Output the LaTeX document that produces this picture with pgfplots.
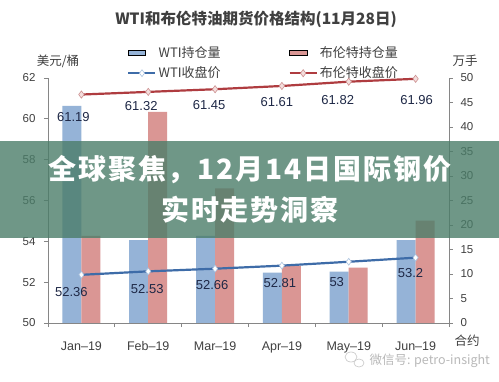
\documentclass[border=0pt]{standalone}
\usepackage{fontspec}
\setmainfont{Liberation Sans}
\newfontfamily\cjk{Noto Sans CJK SC}
\newfontfamily\cjkwide[LetterSpace=7]{Noto Sans CJK SC}
\usepackage{pgfplots}
\usepackage{pgfplotstable}
\pgfplotsset{compat=1.18}

\definecolor{wtibar}{RGB}{149,179,215}
\definecolor{brbar}{RGB}{218,150,148}
\definecolor{wtiline}{RGB}{62,108,168}
\definecolor{brline}{RGB}{175,60,64}
\definecolor{axgray}{RGB}{134,134,134}
\definecolor{txt}{RGB}{64,64,64}
\definecolor{lbl}{RGB}{30,40,70}
\definecolor{banner}{RGB}{75,125,105}

\pgfplotsset{
  mylinelegend/.style={legend image code/.code={\draw[mark repeat=2,mark phase=2,##1] plot coordinates {(0pt,0pt) (13.5pt,0pt) (27pt,0pt)};}},
}

\pgfplotstableread{
x y
0 44.3
1 16.9
2 17.8
3 10.3
4 10.5
5 16.9
}\wtioi
\pgfplotstableread{
x y
0 17.8
1 43.1
2 27.5
3 11.7
4 11.3
5 20.9
}\broi
\pgfplotstableread{
x y dx dy lab
0 52.36 -10 -17 52.36
1 52.53 -1 -18 52.53
2 52.66 -3 -16 52.66
3 52.81 -2 -17 52.81
4 53.00 -12 -20 53
5 53.20 -5 -15 53.2
}\wticl
\pgfplotstableread{
x y dx dy lab
0 61.19 -8 -22 61.19
1 61.32 -7 -14 61.32
2 61.45 -6 -16 61.45
3 61.61 -5 -16 61.61
4 61.82 -11 -18 61.82
5 61.96 1 -21 61.96
}\brcl

\begin{document}
\begin{tikzpicture}
\fill[white] (0pt,0pt) rectangle (499pt,381pt);
\useasboundingbox (0pt,0pt) rectangle (499pt,381pt);

\pgfplotsset{
  common/.style={
    at={(48pt,58pt)}, anchor=south west, scale only axis,
    width=401pt, height=245pt,
    xmin=-0.5, xmax=5.5,
    axis line style={axgray, line width=0.8pt},
    tick style={axgray, line width=0.8pt},
    tick align=outside, major tick length=4pt,
    tick label style={font=\fontsize{11.5}{13}\selectfont, color=txt},
    /pgf/number format/assume math mode=true,
  }
}

% bars: right axis
\begin{axis}[common,
  ymin=0, ymax=50, ytick={0,5,...,50},
  axis y line*=right, axis x line=none,
  yticklabel style={xshift=4pt},
  ybar=0pt, bar width=19pt,
]
\addplot[fill=wtibar, draw=none] table[x=x,y=y] {\wtioi};
\addplot[fill=brbar, draw=none] table[x=x,y=y] {\broi};
\end{axis}

% lines: left axis
\begin{axis}[common,
  ymin=50, ymax=62, ytick={50,52,...,62},
  axis y line*=left, axis x line*=bottom,
  yticklabel style={xshift=-5pt},
  xtick={-0.5,0.5,...,5.5},
  xticklabels={Jan--19,Feb--19,Mar--19,Apr--19,May--19,Jun--19},
  x tick label as interval,
  xticklabel style={yshift=-11pt, font=\fontsize{12.5}{14}\selectfont},
  clip=false,
  legend columns=2,
  legend style={at={(0.19,1.146)}, anchor=north west, draw=none, fill=none,
    font=\cjk\fontsize{13}{15}\selectfont, text=txt,
    /tikz/every even column/.append style={column sep=66pt},
    row sep=4pt},
]
\addlegendimage{area legend, fill=wtibar, draw=none}
\addlegendentry{WTI持仓量}
\addlegendimage{area legend, fill=brbar, draw=none}
\addlegendentry{布伦特持仓量}

\addplot[wtiline, line width=2.2pt, mark=diamond*, mark size=3.4pt,
  mark options={fill=white, draw=wtibar!80, line width=0.6pt},
  point meta=explicit symbolic,
  nodes near coords,
  visualization depends on={\thisrow{dx}\as\dx},
  visualization depends on={\thisrow{dy}\as\dy},
  every node near coord/.append style={anchor=center, xshift={\dx pt}, yshift={\dy pt},
    font=\fontsize{13}{15}\selectfont, color=lbl},
  mylinelegend,
] table[x=x,y=y,meta=lab] {\wticl};
\addlegendentry{WTI收盘价}

\addplot[brline, line width=2.2pt, mark=diamond*, mark size=3.6pt,
  mark options={fill={rgb,255:red,244;green,222;blue,221}, draw={rgb,255:red,205;green,145;blue,145}, line width=0.6pt},
  point meta=explicit symbolic,
  nodes near coords,
  visualization depends on={\thisrow{dx}\as\dx},
  visualization depends on={\thisrow{dy}\as\dy},
  every node near coord/.append style={anchor=center, xshift={\dx pt}, yshift={\dy pt},
    font=\fontsize{13}{15}\selectfont, color=lbl},
  mylinelegend,
] table[x=x,y=y,meta=lab] {\brcl};
\addlegendentry{布伦特收盘价}
\end{axis}

% titles and axis captions
\node[font=\cjk\bfseries\fontsize{15.5}{18}\selectfont, color=txt] at (256pt,362pt) {WTI和布伦特油期货价格结构(11月28日)};
\node[font=\cjk\fontsize{12.5}{14}\selectfont, color=txt] at (58pt,320pt) {美元/桶};
\node[font=\cjk\fontsize{12.5}{14}\selectfont, color=txt] at (465pt,320pt) {万手};
\node[font=\cjk\fontsize{12.5}{14}\selectfont, color=txt] at (467pt,40pt) {合约};

% watermark
\draw[gray!45, line width=0.6pt] (351pt,24pt) ellipse (6pt and 5pt);
\draw[gray!45, line width=0.6pt] (359pt,18pt) ellipse (5pt and 4pt);
\node[font=\cjk\fontsize{12.5}{14}\selectfont, color=gray!55, anchor=west] at (366pt,20pt) {微信号: petro-insight};

% banner overlay
\fill[banner, opacity=0.8] (0pt,143pt) rectangle (499pt,240pt);
\node[font=\cjkwide\bfseries\fontsize{28}{30}\selectfont, color=white] at (250pt,211pt) {全球聚焦，12月14日国际钢价};
\node[font=\cjkwide\bfseries\fontsize{28}{30}\selectfont, color=white] at (250pt,171pt) {实时走势洞察};
\end{tikzpicture}
\end{document}
